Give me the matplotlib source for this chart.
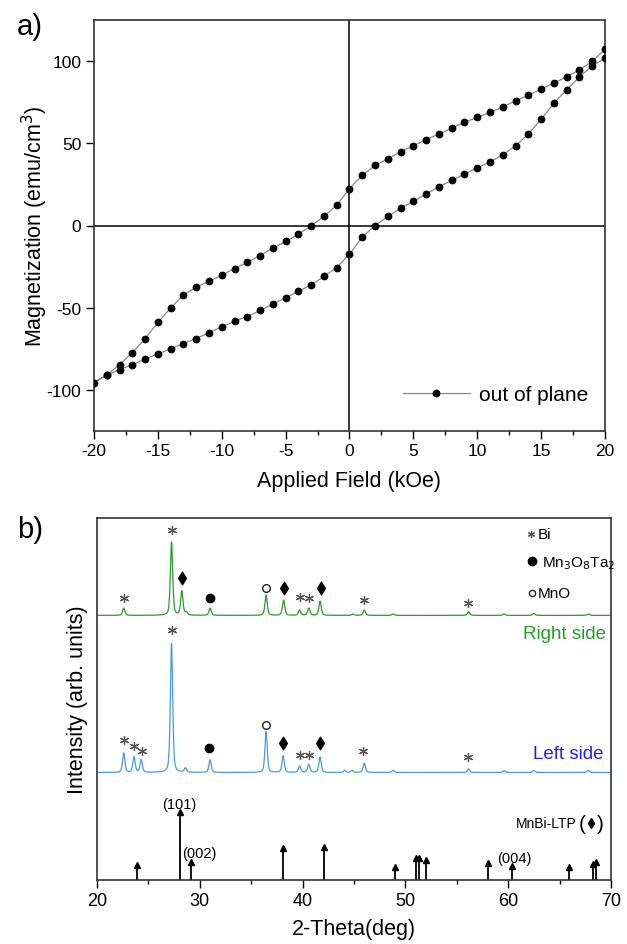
import numpy as np
import matplotlib
matplotlib.use('Agg')
import matplotlib.pyplot as plt
from matplotlib.path import Path

plt.rcParams['font.family'] = ['Liberation Sans', 'DejaVu Sans']
plt.rcParams['axes.unicode_minus'] = False

# ---- panel a: hysteresis loop (kOe, emu/cm3) ----
field_down = [20, 19, 18, 17, 16, 15, 14, 13, 12, 11, 10, 9, 8, 7, 6, 5, 4, 3, 2, 1, 0,
              -1, -2, -3, -4, -5, -6, -7, -8, -9, -10, -11, -12, -13, -14, -15, -16, -17, -18, -19, -20]
m_down = [107.3, 99.8, 94.7, 90.5, 86.6, 83.0, 79.3, 75.9, 72.0, 68.8, 65.7, 62.9, 59.2, 55.6, 52.3,
          48.5, 44.8, 40.6, 36.5, 30.6, 22.5, 12.2, 5.5, -0.2, -5.3, -9.7, -13.8, -18.3, -22.3, -26.2,
          -30.2, -33.9, -37.5, -42.4, -50.1, -59.0, -68.8, -77.3, -84.6, -90.9, -95.5]
field_up = [-19, -18, -17, -16, -15, -14, -13, -12, -11, -10, -9, -8, -7, -6, -5, -4, -3, -2, -1, 0,
            1, 2, 3, 4, 5, 6, 7, 8, 9, 10, 11, 12, 13, 14, 15, 16, 17, 18, 19, 20]
m_up = [-91.0, -87.6, -84.8, -81.3, -78.1, -75.0, -71.8, -68.8, -65.1, -61.7, -58.2, -55.4, -51.7,
        -47.7, -44.0, -40.0, -36.1, -31.0, -25.6, -17.4, -7.1, 0.0, 5.5, 10.5, 14.6, 19.3, 23.5,
        27.4, 31.2, 35.1, 38.7, 43.0, 48.5, 55.6, 64.7, 74.4, 82.6, 90.3, 97.2, 101.6]

# ---- panel b: XRD peaks (2-theta, height in arb. units) ----
green_base = 73.1
green_pos = [22.6, 27.25, 28.25, 28.7, 31.0, 36.45, 38.15, 39.7, 40.6, 41.7, 44.9, 46.0, 48.8,
             56.15, 59.6, 62.5, 67.8]
green_amp = [2.0, 20.3, 6.7, 0.8, 2.0, 5.6, 4.2, 1.5, 2.0, 3.9, 0.4, 1.5, 0.4, 1.0, 0.4, 0.5, 0.4]

blue_base = 29.7
blue_pos = [22.6, 23.6, 24.3, 27.25, 28.6, 31.0, 36.45, 38.1, 39.7, 40.6, 41.7, 44.1, 44.8, 46.0,
            48.8, 56.15, 59.6, 62.5, 67.8]
blue_amp = [5.4, 4.3, 3.5, 35.8, 1.2, 3.5, 11.3, 4.6, 1.8, 2.2, 4.3, 0.6, 0.6, 2.6, 0.6, 1.0,
            0.5, 0.6, 0.6]

# MnBi-LTP reference sticks
ref_pos = [23.9, 28.05, 29.1, 38.05, 42.1, 49.0, 51.0, 51.35, 52.0, 58.0, 60.4, 65.9, 68.25, 68.55]
ref_h = [4.2, 18.9, 5.1, 8.8, 9.0, 3.7, 6.0, 6.0, 5.4, 4.8, 3.9, 3.5, 4.4, 5.1]
ref_labels = [('(101)', 28.0, 21.0), ('(002)', 30.0, 7.4), ('(004)', 60.6, 6.0)]

# phase marks: (2theta, y, kind)
green_marks = [(22.6, 78.0, 'bi'), (27.3, 96.7, 'bi'), (28.3, 83.5, 'mnbi'), (31.0, 77.8, 'mto'),
               (36.4, 80.6, 'mno'), (38.2, 80.6, 'mnbi'), (39.7, 78.2, 'bi'), (40.6, 77.8, 'bi'),
               (41.8, 80.6, 'mnbi'), (46.0, 77.3, 'bi'), (56.1, 76.6, 'bi')]
blue_marks = [(22.6, 38.8, 'bi'), (23.6, 37.1, 'bi'), (24.4, 35.5, 'bi'), (27.3, 69.0, 'bi'),
              (30.9, 36.5, 'mto'), (36.4, 42.9, 'mno'), (38.1, 37.8, 'mnbi'), (39.7, 34.6, 'bi'),
              (40.6, 34.6, 'bi'), (41.7, 37.8, 'mnbi'), (45.9, 35.5, 'bi'), (56.1, 33.9, 'bi')]

green_col = '#2e9a2e'
blue_col = '#4a9be0'

diamond = Path([(0, 1), (0.62, 0), (0, -1), (-0.62, 0), (0, 1)],
               [Path.MOVETO, Path.LINETO, Path.LINETO, Path.LINETO, Path.CLOSEPOLY])
mark_style = {
    'bi': dict(marker=(6, 2, 0), ms=6.5, mec='#555555', mew=0.9, mfc='none'),
    'mnbi': dict(marker=diamond, ms=9, mec='black', mfc='black'),
    'mto': dict(marker='o', ms=6, mec='black', mfc='black'),
    'mno': dict(marker='o', ms=5.5, mec='#222222', mfc='none', mew=1.0),
}


def profile(x, pos, amp, w=0.12):
    y = np.zeros_like(x)
    for p, a in zip(pos, amp):
        y += a * (0.5 * np.exp(-0.5 * ((x - p) / w) ** 2) + 0.5 / (1 + ((x - p) / w) ** 2))
    return y


fig = plt.figure(figsize=(6.27, 9.45), dpi=100)

# ---------------- panel a ----------------
ax1 = fig.add_axes([94 / 627, 1 - 432 / 945, 511 / 627, 411 / 945])
hx = field_down + field_up
hy = m_down + m_up
ax1.axhline(0, color='black', lw=1.1, zorder=1)
ax1.axvline(0, color='black', lw=1.1, zorder=1)
ax1.plot(hx, hy, color='#888888', lw=0.9, marker='o', ms=4.6, mfc='black', mec='black',
         label='out of plane', zorder=3)
ax1.set_xlim(-20, 20)
ax1.set_ylim(-125, 125)
ax1.set_xticks(np.arange(-20, 21, 5))
ax1.set_xticks(np.arange(-20, 21, 2.5), minor=True)
ax1.set_yticks([-100, -50, 0, 50, 100])
ax1.tick_params(axis='both', which='major', direction='out', length=6, width=1, labelsize=12.5, pad=3)
ax1.tick_params(axis='both', which='minor', direction='out', length=3, width=1)
ax1.set_xlabel('Applied Field (kOe)', fontsize=15.5, labelpad=8)
ax1.set_ylabel('Magnetization (emu/cm$^3$)', fontsize=15.5)
ax1.yaxis.set_label_coords(-0.087, 0.5)
for s in ax1.spines.values():
    s.set_linewidth(1.2)
    s.set_color('#333333')
ax1.legend(loc='center right', bbox_to_anchor=(0.967, 0.088), frameon=False, fontsize=15,
           handlelength=3.2, handletextpad=0.45, borderpad=0, borderaxespad=0)

# ---------------- panel b ----------------
ax2 = fig.add_axes([97 / 627, 1 - 881 / 945, 514 / 627, 362 / 945])
tt = np.arange(20, 70.001, 0.02)
ax2.plot(tt, green_base + profile(tt, green_pos, green_amp), color=green_col, lw=0.9)
ax2.plot(tt, blue_base + profile(tt, blue_pos, blue_amp), color=blue_col, lw=0.9)

ax2.vlines(ref_pos, 0, ref_h, color='black', lw=1.3)
ax2.plot(ref_pos, ref_h, ls='none', marker='^', ms=5, color='black')
for lab, x, y in ref_labels:
    ax2.text(x, y, lab, ha='center', va='center', fontsize=10.5)

for x, y, k in green_marks + blue_marks:
    ax2.plot(x, y, ls='none', **mark_style[k])

# phase key
ax2.plot(62.25, 95.6, ls='none', **dict(mark_style['bi'], ms=5))
ax2.text(62.85, 95.6, 'Bi', ha='left', va='center', fontsize=11)
ax2.plot(62.3, 88.1, ls='none', **mark_style['mto'])
ax2.text(63.3, 87.6, 'Mn$_3$O$_8$Ta$_2$', ha='left', va='center', fontsize=11)
ax2.plot(62.3, 79.2, ls='none', **dict(mark_style['mno'], ms=4.5))
ax2.text(62.9, 79.2, 'MnO', ha='left', va='center', fontsize=11)

ax2.text(69.5, 68.0, 'Right side', ha='right', va='center', fontsize=13.5, color='#22a022')
ax2.text(69.3, 34.9, 'Left side', ha='right', va='center', fontsize=13.5, color='#2222ee')

ax2.text(60.7, 15.7, 'MnBi-LTP', ha='left', va='center', fontsize=10)
ax2.text(67.2, 15.7, '(', ha='center', va='center', fontsize=15)
ax2.plot(68.1, 15.7, ls='none', marker=diamond, ms=7, color='black')
ax2.text(69.0, 15.7, ')', ha='center', va='center', fontsize=15)

ax2.set_xlim(20, 70)
ax2.set_ylim(0, 100)
ax2.set_yticks([])
ax2.set_xticks(np.arange(20, 71, 10))
ax2.set_xticks(np.arange(20, 71, 5), minor=True)
ax2.tick_params(axis='x', which='major', direction='out', length=6, width=1, labelsize=13, pad=3)
ax2.tick_params(axis='x', which='minor', direction='out', length=3, width=1)
ax2.set_xlabel('2-Theta(deg)', fontsize=15.5, labelpad=6)
ax2.set_ylabel('Intensity (arb. units)', fontsize=15.5)
ax2.yaxis.set_label_coords(-0.017, 0.5)
for s in ax2.spines.values():
    s.set_linewidth(1.2)
    s.set_color('#333333')

fig.text(17 / 627, 1 - 27 / 945, 'a)', fontsize=21, ha='left', va='center')
fig.text(17 / 627, 1 - 530 / 945, 'b)', fontsize=21, ha='left', va='center')

fig.savefig('out.png', dpi=100)
